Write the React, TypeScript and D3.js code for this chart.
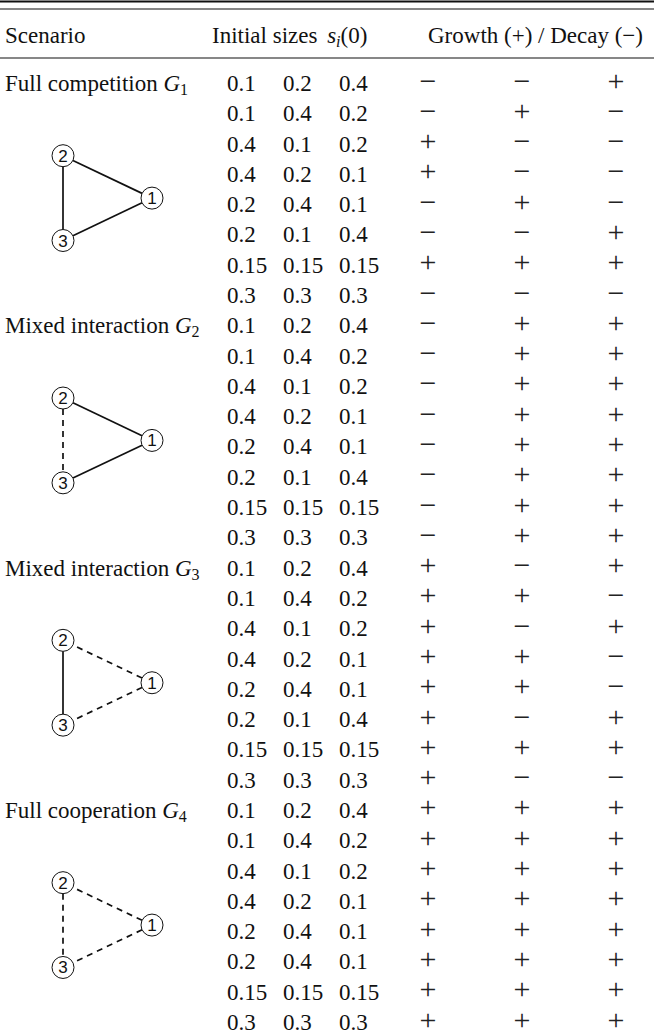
import React from "react";
import * as d3 from "d3";

const WIDTH = 654;
const HEIGHT = 1036;

// scenario labels (name + subscript of G)
const scenarioNames = ["Full competition", "Mixed interaction", "Mixed interaction", "Full cooperation"];
const scenarioSubs = ["1", "2", "3", "4"];

// edge types per scenario: [1-2, 1-3, 2-3]  s = solid, d = dashed
const edgeStyles = [
  ["s", "s", "s"],
  ["s", "s", "d"],
  ["d", "d", "s"],
  ["d", "d", "d"],
];

// initial sizes s_i(0), one list per scenario
const sizesG1 = [
  ["0.1", "0.2", "0.4"],
  ["0.1", "0.4", "0.2"],
  ["0.4", "0.1", "0.2"],
  ["0.4", "0.2", "0.1"],
  ["0.2", "0.4", "0.1"],
  ["0.2", "0.1", "0.4"],
  ["0.15", "0.15", "0.15"],
  ["0.3", "0.3", "0.3"],
];
const sizesG2 = sizesG1;
const sizesG3 = sizesG1;
const sizesG4 = [
  ["0.1", "0.2", "0.4"],
  ["0.1", "0.4", "0.2"],
  ["0.4", "0.1", "0.2"],
  ["0.4", "0.2", "0.1"],
  ["0.2", "0.4", "0.1"],
  ["0.2", "0.4", "0.1"],
  ["0.15", "0.15", "0.15"],
  ["0.3", "0.3", "0.3"],
];

// growth (+) / decay (-) per species
const signsG1 = ["--+", "-+-", "+--", "+--", "-+-", "--+", "+++", "---"];
const signsG2 = ["-++", "-++", "-++", "-++", "-++", "-++", "-++", "-++"];
const signsG3 = ["+-+", "++-", "+-+", "++-", "++-", "+-+", "+++", "+--"];
const signsG4 = ["+++", "+++", "+++", "+++", "+++", "+++", "+++", "+++"];

const allSizes = [sizesG1, sizesG2, sizesG3, sizesG4];
const allSigns = [signsG1, signsG2, signsG3, signsG4];

const FONT = "'Liberation Serif', 'Times New Roman', serif";
const FS = 23;
const NODE_R = 11;

export default function App() {
  const rows = allSizes.flatMap((grp, g) =>
    grp.map((sz, i) => ({ g, i, sizes: sz, signs: allSigns[g][i] }))
  );

  const y = d3.scaleLinear().domain([0, rows.length - 1]).range([83, 1022]);
  const xSize = d3.scaleLinear().domain([0, 2]).range([227, 339]);
  const xSign = d3.scaleLinear().domain([0, 2]).range([428, 616]);

  const graphs = scenarioNames.map((_, g) => {
    const base = g * 8;
    const nodes = [
      { id: "1", x: 152, y: y(base + 3.8) },
      { id: "2", x: 63, y: y(base + 2.4) },
      { id: "3", x: 63, y: y(base + 5.2) },
    ];
    const pairs: [number, number][] = [
      [0, 1],
      [0, 2],
      [1, 2],
    ];
    const edges = pairs.map(([a, b], k) => {
      const A = nodes[a];
      const B = nodes[b];
      const len = Math.hypot(B.x - A.x, B.y - A.y);
      const ux = (B.x - A.x) / len;
      const uy = (B.y - A.y) / len;
      return (
        <line
          key={k}
          x1={A.x + ux * NODE_R}
          y1={A.y + uy * NODE_R}
          x2={B.x - ux * NODE_R}
          y2={B.y - uy * NODE_R}
          stroke="#111"
          strokeWidth={1.7}
          strokeDasharray={edgeStyles[g][k] === "d" ? "6,5" : undefined}
        />
      );
    });
    return (
      <g key={g}>
        {edges}
        {nodes.map((n) => (
          <g key={n.id}>
            <circle cx={n.x} cy={n.y} r={NODE_R} fill="white" stroke="#111" strokeWidth={1} />
            <text
              x={n.x}
              y={n.y + 6}
              textAnchor="middle"
              fontFamily="'Liberation Sans', Arial, sans-serif"
              fontSize={17}
              fill="#111"
            >
              {n.id}
            </text>
          </g>
        ))}
      </g>
    );
  });

  return (
    <svg
      width={WIDTH}
      height={HEIGHT}
      style={{ position: "absolute", left: 0, top: 0, background: "white" }}
      fontFamily={FONT}
      fontSize={FS}
    >
      {/* top double rule */}
      <line x1={0} x2={WIDTH} y1={1.5} y2={1.5} stroke="#111" strokeWidth={2} />
      <line x1={0} x2={WIDTH} y1={9} y2={9} stroke="#111" strokeWidth={1.2} />

      {/* header */}
      <text x={5} y={43} fill="#111">Scenario</text>
      <text x={212} y={43} fill="#111" xmlSpace="preserve">
        Initial sizes{" "}
        <tspan dx={4} fontStyle="italic">s</tspan>
        <tspan fontStyle="italic" fontSize={16} dy={4}>i</tspan>
        <tspan dy={-4}>(0)</tspan>
      </text>
      <text x={428} y={43} fill="#111">Growth (+) / Decay (−)</text>
      <line x1={0} x2={WIDTH} y1={58} y2={58} stroke="#111" strokeWidth={1.2} />

      {/* scenario names */}
      {scenarioNames.map((name, g) => (
        <text key={g} x={5} y={y(g * 8) + 8} fill="#111">
          {name} <tspan fontStyle="italic">G</tspan>
          <tspan fontSize={16} dy={4}>{scenarioSubs[g]}</tspan>
        </text>
      ))}

      {/* rows */}
      {rows.map((r, k) => (
        <g key={k}>
          {r.sizes.map((s, j) => (
            <text key={"s" + j} x={xSize(j)} y={y(k) + 8} fill="#111">
              {s}
            </text>
          ))}
          {r.signs.split("").map((c, j) => (
            <text
              key={"g" + j}
              x={xSign(j)}
              y={y(k) + 7.5}
              textAnchor="middle"
              fontSize={30}
              fill="#222"
            >
              {c === "+" ? "+" : "−"}
            </text>
          ))}
        </g>
      ))}

      {graphs}
    </svg>
  );
}
